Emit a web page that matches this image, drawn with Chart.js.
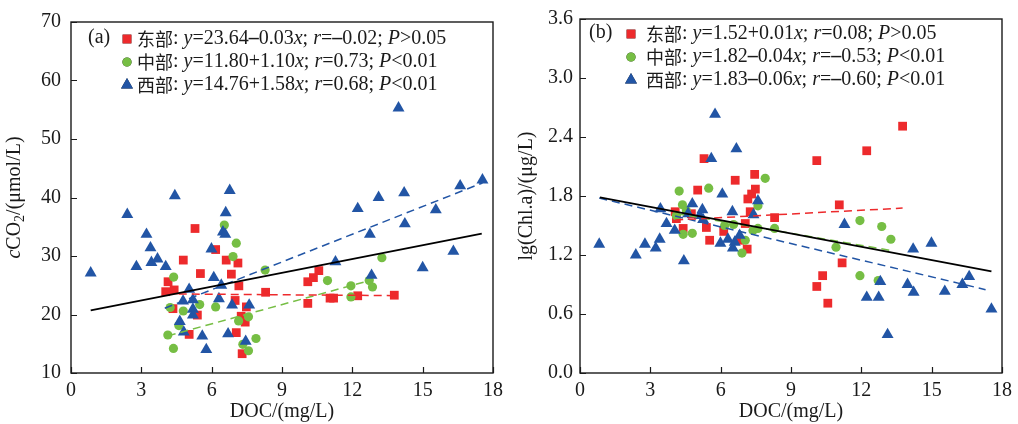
<!DOCTYPE html>
<html><head><meta charset="utf-8">
<script src="https://cdn.jsdelivr.net/npm/chart.js@4.4.1/dist/chart.umd.min.js"></script>
<style>
html,body{margin:0;padding:0;background:#fff;}
#wrap{position:relative;width:1018px;height:424px;overflow:hidden;}
.pane{position:absolute;top:0;width:509px;height:424px;}
</style></head>
<body><div id="wrap">
<div class="pane" style="left:0"><canvas id="ca" width="509" height="424"></canvas></div>
<div class="pane" style="left:509px"><canvas id="cb" width="509" height="424"></canvas></div>
</div>
<script>
// ---------- tick labels ----------
const xTickLabels = ['0','3','6','9','12','15','18'];
const yTickLabelsA = ['10','20','30','40','50','60','70'];
const yTickLabelsB = ['0.0','0.6','1.2','1.8','2.4','3.0','3.6'];

// ---------- legend text ----------
const regionNames = ['东部','中部','西部'];
const legendStatsA = ['y=23.64–0.03x; r=–0.02; P>0.05','y=11.80+1.10x; r=0.73; P<0.01','y=14.76+1.58x; r=0.68; P<0.01'];
const legendStatsB = ['y=1.52+0.01x; r=0.08; P>0.05','y=1.82–0.04x; r=–0.53; P<0.01','y=1.83–0.06x; r=–0.60; P<0.01'];

// ---------- panel (a): DOC vs cCO2 ----------
const eastDocA = [5.29,6.17,4.79,6.62,7.12,5.52,6.84,4.14,4.04,4.40,7.16,8.30,7.00,4.35,5.39,7.48,7.26,7.43,7.05,5.04,7.30,10.10,10.34,10.57,10.10,11.05,11.20,12.23,13.79];
const eastCo2  = [34.7,31.1,29.3,29.3,28.8,27.0,26.9,25.6,23.9,24.2,24.9,23.8,22.4,21.0,19.9,21.3,19.7,18.7,16.9,16.6,13.3,25.6,26.3,27.5,21.9,22.8,22.8,23.2,23.3];
const midDocA  = [6.54,7.05,6.91,4.38,8.28,4.23,4.79,5.49,6.17,7.57,7.15,4.60,4.13,4.37,7.89,7.33,7.57,10.94,11.94,11.94,12.72,12.86,13.26];
const midCo2   = [35.3,32.2,29.9,26.4,27.6,21.2,20.6,21.7,21.3,19.6,18.9,18.1,16.5,14.2,15.9,14.9,13.8,25.8,24.9,23.0,25.8,24.7,29.7];
const westDocA = [0.84,2.40,2.79,3.22,3.39,3.43,3.69,4.04,4.43,5.04,4.78,5.20,5.20,5.20,4.64,4.81,5.60,5.77,5.99,6.09,6.41,6.31,6.48,6.58,6.60,6.77,6.87,6.70,7.45,7.60,11.28,12.23,12.75,12.82,13.12,13.97,14.21,14.24,15.00,15.56,16.31,16.60,17.55];
const westCo2  = [27.1,37.1,28.2,33.7,31.4,28.9,29.5,28.2,40.3,24.3,22.3,22.5,20.9,19.9,18.8,17.0,16.3,14.0,31.2,26.3,25.0,22.7,34.1,33.7,37.4,41.2,21.6,16.7,15.4,21.6,29.0,38.1,33.7,26.7,40.0,55.3,40.8,35.5,28.0,37.9,30.8,42.0,43.0];

// fitted lines (a): east, middle, west, all
const fitInterceptA = [23.64, 11.80, 14.76, 20.04];
const fitSlopeA     = [-0.03, 1.10, 1.58, 0.787];
const fitStartA     = [4.04, 4.13, 4.0, 0.84];
const fitEndA       = [13.79, 12.9, 17.55, 17.52];

// ---------- panel (b): DOC vs lg(Chl.a) ----------
const eastDocB = [13.76,12.23,10.10,5.29,7.45,6.62,5.02,7.48,7.32,7.16,11.06,4.06,7.26,4.11,8.30,4.75,4.40,5.39,7.05,6.13,5.53,6.81,7.13,11.18,10.35,10.10,10.57];
const eastChl  = [2.51,2.26,2.16,2.18,2.02,1.96,1.86,1.87,1.82,1.77,1.71,1.64,1.64,1.57,1.58,1.62,1.47,1.48,1.52,1.44,1.35,1.35,1.26,1.12,0.99,0.88,0.71];
const midDocB  = [7.90,5.49,4.23,4.37,4.54,4.11,7.59,7.59,6.17,6.55,4.40,4.79,8.30,7.05,6.91,7.38,11.94,12.87,13.26,10.92,11.94,12.72];
const midChl   = [1.98,1.88,1.85,1.71,1.65,1.60,1.70,1.47,1.50,1.51,1.41,1.42,1.47,1.35,1.22,1.45,1.55,1.49,1.36,1.28,0.99,0.94];
const westDocB = [0.82,2.38,2.77,3.23,3.40,3.43,3.69,4.04,4.43,4.61,4.79,5.11,5.22,5.25,5.60,5.76,5.99,6.07,6.31,6.50,6.52,6.60,6.67,6.81,7.40,7.59,11.28,12.23,12.74,12.81,13.12,13.97,14.21,14.23,14.99,15.56,16.31,16.60,17.55];
const westChl  = [1.31,1.20,1.31,1.27,1.36,1.67,1.52,1.45,1.14,1.62,1.72,1.60,1.66,1.56,2.18,2.63,1.32,1.82,1.36,1.64,1.27,1.33,2.28,1.40,1.61,1.75,1.51,0.77,0.77,0.93,0.39,0.90,1.26,0.82,1.32,0.83,0.90,0.98,0.65];

const fitInterceptB = [1.505, 1.79, 1.825, 1.824];
const fitSlopeB     = [0.0125, -0.041, -0.0565, -0.045];
const fitStartB     = [4.06, 4.11, 0.82, 0.85];
const fitEndB       = [13.76, 13.2, 17.3, 17.55];

// ---------- styling ----------
const RED = '#ED2A2C', GREEN = '#76BE44', BLUE = '#2255A5', INK = '#1a1a1a';
const SERIF = '"Liberation Serif","Times New Roman",serif';
const CJK = '"Noto Sans CJK SC",sans-serif';
const markerStyles = [
  {pointStyle:'rect', radius:6.2, color:RED},
  {pointStyle:'circle', radius:4.6, color:GREEN},
  {pointStyle:'triangle', radius:6.9, color:BLUE}
];
const fitColors = [RED, GREEN, BLUE, '#000'];

function pts(xs, ys){ return xs.map((x,i)=>({x:x, y:ys[i]})); }
function linePts(b, m, x0, x1){ return [{x:x0, y:b+m*x0},{x:x1, y:b+m*x1}]; }

function parseStats(s){
  const segs=[];
  for(const ch of s){
    if('yxrP'.includes(ch)) segs.push({t:ch, style:'italic'});
    else if(ch==='–') segs.push({t:ch, style:'bold'});
    else segs.push({t:ch, style:''});
  }
  return segs;
}
function fontFor(s, size){
  if(s.cjk) return s.size+'px '+CJK;
  return (s.style||'')+' '+(s.sub? Math.round(size*0.68):size)+'px '+SERIF;
}
function drawSegs(ctx, segs, x, y, size){
  let cx=x;
  for(const s of segs){
    ctx.font=fontFor(s,size);
    ctx.fillText(s.t, cx, y + (s.sub? size*0.28:0));
    cx += ctx.measureText(s.t).width;
  }
  return cx-x;
}
function measureSegs(ctx, segs, size){
  let w=0;
  for(const s of segs){ ctx.font=fontFor(s,size); w+=ctx.measureText(s.t).width; }
  return w;
}
function drawMarker(ctx, k, x, y){
  const m = markerStyles[k];
  Chart.helpers.drawPoint(ctx, {pointStyle:m.pointStyle, radius:m.radius, rotation:0, borderWidth:0}, x, y);
  ctx.fillStyle=m.color; ctx.fill();
}

function decorPlugin(cfg){
  return {
    id:'decor',
    afterDraw(chart){
      const ctx=chart.ctx, a=chart.chartArea, xs=chart.scales.x, ys=chart.scales.y;
      ctx.save();
      ctx.strokeStyle=INK; ctx.lineWidth=1.4;
      ctx.strokeRect(a.left, a.top, a.right-a.left, a.bottom-a.top);
      ctx.lineWidth=1.2; ctx.beginPath();
      xs.ticks.forEach(t=>{const p=Math.round(xs.getPixelForValue(t.value))+0.5; ctx.moveTo(p,a.bottom); ctx.lineTo(p,a.bottom-6);});
      ys.ticks.forEach(t=>{const p=Math.round(ys.getPixelForValue(t.value))+0.5; ctx.moveTo(a.left,p); ctx.lineTo(a.left+6,p);});
      ctx.stroke();
      ctx.fillStyle=INK; ctx.textBaseline='middle';
      ctx.font='20px '+SERIF; ctx.textAlign='center';
      ctx.fillText('DOC/(mg/L)', (a.left+a.right)/2, 412);
      ctx.textAlign='left';
      const tw = measureSegs(ctx, cfg.yTitle, 20);
      ctx.save(); ctx.translate(cfg.yTitleX, (a.top+a.bottom)/2); ctx.rotate(-Math.PI/2);
      drawSegs(ctx, cfg.yTitle, -tw/2, 0, 20);
      ctx.restore();
      ctx.font='20px '+SERIF; ctx.fillStyle=INK;
      ctx.fillText(cfg.panel, cfg.panelX, cfg.rowY[0]-1);
      for(let i=0;i<3;i++){
        drawMarker(ctx, i, cfg.markerX, cfg.rowY[i]);
        ctx.fillStyle=INK;
        const segs=[{t:regionNames[i], cjk:true, size:18},{t:': ', style:''}].concat(parseStats(cfg.stats[i]));
        drawSegs(ctx, segs, cfg.textX, cfg.rowY[i], 20);
      }
      ctx.restore();
    }
  };
}

function makeChart(id, data, fits, yMin, yMax, yStep, yLabels, cfg){
  const ds=[];
  const series=[[data.ex,data.ey],[data.mx,data.my],[data.wx,data.wy]];
  series.forEach((s,k)=>{
    const m=markerStyles[k];
    ds.push({type:'scatter', data:pts(s[0],s[1]), pointStyle:m.pointStyle, pointRadius:m.radius,
      pointBackgroundColor:m.color, pointBorderWidth:0, pointBorderColor:m.color, order:10-k});
  });
  for(let k=0;k<4;k++){
    ds.push({type:'line', data:linePts(fits.b[k],fits.m[k],fits.s[k],fits.e[k]), borderColor:fitColors[k],
      borderWidth:k===3?1.8:1.5, borderDash:k===3?[]:[8,5], pointRadius:0, fill:false, order:k===3?0:1});
  }
  return new Chart(document.getElementById(id), {
    type:'scatter',
    data:{datasets:ds},
    options:{
      responsive:false, animation:false, events:[],
      layout:{padding:{left:0,right:15,top:17,bottom:0}},
      plugins:{legend:{display:false}, tooltip:{enabled:false}},
      scales:{
        x:{type:'linear', min:0, max:18,
          ticks:{stepSize:3, color:INK, padding:6, font:{family:SERIF, size:20},
            callback:(v,i)=>xTickLabels[i]},
          grid:{display:false, drawTicks:false}, border:{display:false},
          afterFit:s=>{s.height=51;}},
        y:{type:'linear', min:yMin, max:yMax,
          ticks:{stepSize:yStep, color:INK, padding:cfg.yPad, font:{family:SERIF, size:20},
            callback:(v,i)=>yLabels[i]},
          grid:{display:false, drawTicks:false}, border:{display:false},
          afterFit:s=>{s.width=71;}}
      }
    },
    plugins:[decorPlugin(cfg)]
  });
}

makeChart('ca',
  {ex:eastDocA, ey:eastCo2, mx:midDocA, my:midCo2, wx:westDocA, wy:westCo2},
  {b:fitInterceptA, m:fitSlopeA, s:fitStartA, e:fitEndA},
  10, 70, 10, yTickLabelsA,
  {yPad:10, panel:'(a)', panelX:88, markerX:127, textX:137, rowY:[39,62,85], stats:legendStatsA,
   yTitleX:15, yTitle:[{t:'c',style:'italic'},{t:'CO',style:''},{t:'2',style:'',sub:true},{t:'/(μmol/L)',style:''}]});

makeChart('cb',
  {ex:eastDocB, ey:eastChl, mx:midDocB, my:midChl, wx:westDocB, wy:westChl},
  {b:fitInterceptB, m:fitSlopeB, s:fitStartB, e:fitEndB},
  0, 3.6, 0.6, yTickLabelsB,
  {yPad:7, panel:'(b)', panelX:80, markerX:122, textX:137, rowY:[34,57,80], stats:legendStatsB,
   yTitleX:18, yTitle:[{t:'lg(Chl.a)/(μg/L)',style:''}]});
</script>
</body></html>
